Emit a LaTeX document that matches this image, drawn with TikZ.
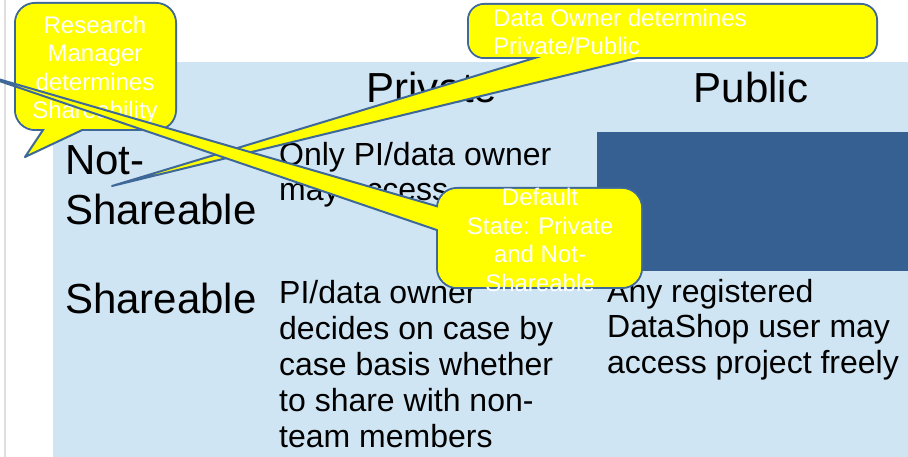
\documentclass[tikz,border=0pt]{standalone}
\usepackage{fontspec}
\setmainfont{Liberation Sans}
\definecolor{lightbg}{RGB}{208,229,243}
\definecolor{darkbox}{RGB}{54,96,146}
\definecolor{cborder}{RGB}{62,104,152}
\definecolor{cyellow}{RGB}{255,255,0}
\tikzset{
  callout/.style={fill=cyellow, draw=cborder, line width=2pt, line join=round},
  calloutfill/.style={fill=cyellow},
  callouttext/.style={text=white, font=\fontsize{24}{28.5}\selectfont, inner sep=0pt},
  cell/.style={font=\fontsize{32}{35.5}\selectfont, inner sep=0pt, align=left, anchor=base west},
  head/.style={font=\fontsize{42}{50}\selectfont, inner sep=0pt},
}
\begin{document}
\begin{tikzpicture}[x=1pt,y=-1pt]
\useasboundingbox (0,0) rectangle (908,457);
% left grey rule
\draw[gray!25, line width=2pt] (5,0) -- (5,457);
% table background
\fill[lightbg] (53,62) rectangle (908,457);
\fill[darkbox] (597,132) rectangle (908,271);
% table text (anchor base = last line's baseline)
\node[head, anchor=base] (hpriv) at (432,103) {Private};
\node[head, anchor=base] (hpub) at (751,103) {Public};
\node[head, align=left, anchor=base west] (rnot) at (65,225) {Not-\\Shareable};
\node[head, anchor=base west] (rsh) at (65,313) {Shareable};
\node[cell] (c11) at (279,201) {Only PI/data owner\\may access};
\node[cell, font=\fontsize{32}{36}\selectfont] (c21) at (279,447) {PI/data owner\\decides on case by\\case basis whether\\to share with non-\\team members};
\node[cell] (c22) at (607,373) {Any registered\\DataShop user may\\access project freely};
% callout: Research Manager
\coordinate (rmtip) at (25,157);
\draw[callout, rounded corners=20pt] (15,3) rectangle (176,130);
\draw[callout] (rmtip) -- (47,124) -- (95,124) -- cycle;
\fill[calloutfill, rounded corners=19pt] (16,4) rectangle (175,129);
\node[callouttext, align=center, anchor=base] (rmtext) at (95,119) {Research\\Manager\\determines\\Shareability};
% callout: Data Owner
\coordinate (dotip) at (112,186);
\draw[callout, rounded corners=16pt] (468,4) rectangle (877,58);
\draw[callout] (dotip) -- (561,50) -- (670,50) -- cycle;
\fill[calloutfill, rounded corners=15pt] (469,5) rectangle (876,57);
\node[callouttext, align=left, anchor=base west] (dotext) at (493,55) {Data Owner determines\\Private/Public};
% callout: Default State
\coordinate (dstip) at (-33,70);
\draw[callout, rounded corners=20pt] (437,188) rectangle (642,288);
\draw[callout] (dstip) -- (450,210) -- (450,234.5) -- cycle;
\fill[calloutfill, rounded corners=19pt] (438,189) rectangle (641,287);
\node[callouttext, align=center, anchor=base] (dstext) at (540,291) {Default\\State: Private\\and Not-\\Shareable};
\end{tikzpicture}
\end{document}
